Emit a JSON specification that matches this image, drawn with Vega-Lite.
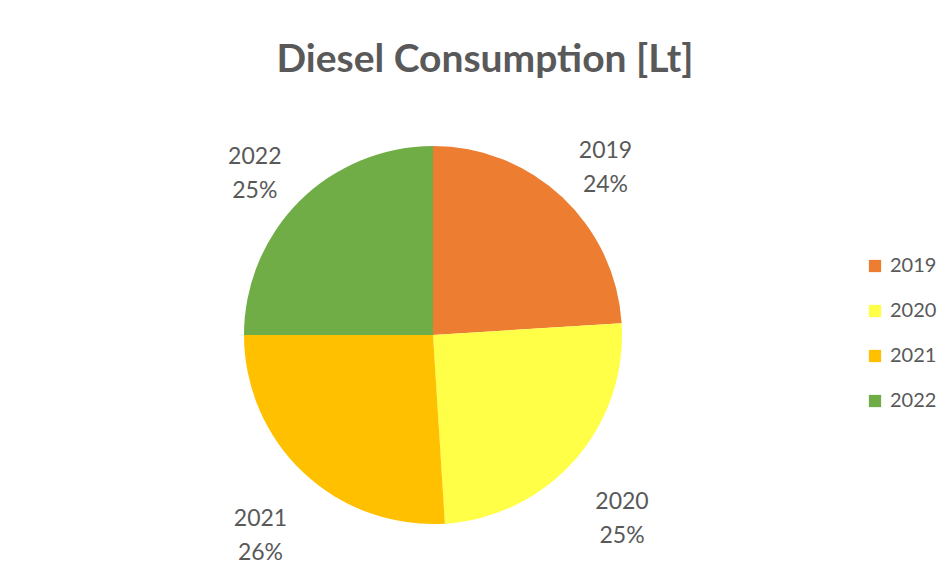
{
  "$schema": "https://vega.github.io/schema/vega-lite/v6.json",
  "width": 866,
  "height": 474,
  "padding": {"left": 0, "top": 41, "right": 0, "bottom": 0},
  "background": "white",
  "title": {
    "text": "Diesel Consumption [Lt]",
    "fontSize": 39,
    "font": "Lato",
    "fontWeight": "bold",
    "color": "#595959",
    "anchor": "middle",
    "offset": 18,
    "dx": 52
  },
  "data": {
    "values": [
      {"year": "2019", "value": 24, "label": "2019\n24%"},
      {"year": "2020", "value": 25, "label": "2020\n25%"},
      {"year": "2021", "value": 26, "label": "2021\n26%"},
      {"year": "2022", "value": 25, "label": "2022\n25%"}
    ]
  },
  "encoding": {
    "theta": {"field": "value", "type": "quantitative", "stack": true},
    "order": {"field": "year"},
    "color": {
      "field": "year",
      "type": "nominal",
      "scale": {"domain": ["2019", "2020", "2021", "2022"], "range": ["#ED7D31", "#FFFF47", "#FFC000", "#70AD47"]},
      "legend": {
        "title": null,
        "orient": "none",
        "legendX": 865,
        "legendY": 158,
        "symbolType": "square",
        "symbolSize": 150,
        "symbolStrokeWidth": 0,
        "labelFontSize": 20,
        "labelFont": "Lato",
        "labelColor": "#595959",
        "rowPadding": 25,
        "labelOffset": 5
      }
    }
  },
  "layer": [
    {"mark": {"type": "arc", "outerRadius": 189}},
    {
      "mark": {"type": "text", "radius": 252, "lineBreak": "\n", "fontSize": 23, "font": "Lato", "lineHeight": 34},
      "encoding": {"text": {"field": "label"}, "color": {"value": "#595959"}}
    }
  ],
  "config": {"view": {"stroke": null}}
}
